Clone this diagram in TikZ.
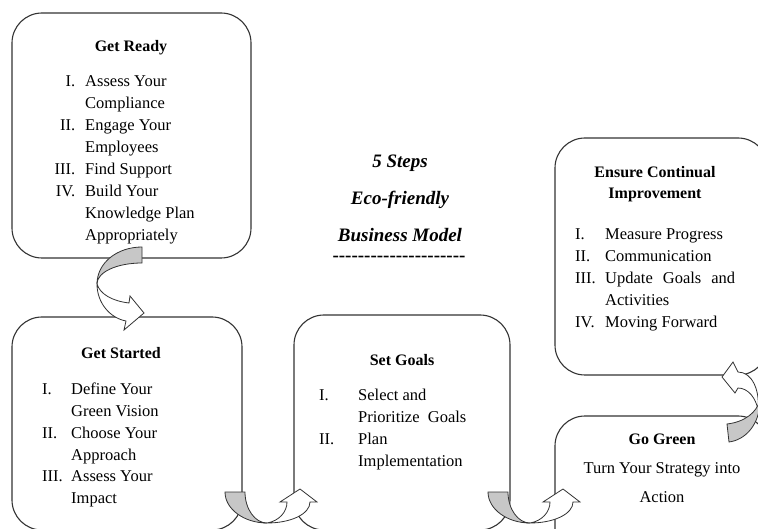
\documentclass[tikz,border=0pt]{standalone}
\usepackage{fontspec}
\setmainfont{Liberation Serif}
\newcommand\rnum[1]{\llap{#1\hspace{10pt}}}
\newcommand\lnum[2]{\llap{\makebox[#1][l]{#2}}}
\begin{document}
\begin{tikzpicture}[x=1pt,y=-1pt,
    stage/.style={draw=black!80,line width=1.1pt,rounded corners=30pt,inner sep=0pt,outer sep=0pt},
    heading/.style={anchor=base,inner sep=0pt,font=\fontsize{16}{21}\selectfont\bfseries},
    items/.style={anchor=base west,inner sep=0pt,font=\fontsize{16.5}{22}\selectfont},
    grayband/.style={draw=black!80,line width=0.8pt,fill=black!22},
    whiteband/.style={draw=black!80,line width=0.8pt,fill=white}]

  \useasboundingbox (0,0) rectangle (758,529);
  \clip (0,0) rectangle (758,529);

  % the five steps
  \node[stage,minimum width=239pt,minimum height=245pt] (ready)   at (131.5,135.5) {};
  \node[stage,minimum width=230pt,minimum height=213pt] (started) at (127,423.5) {};
  \node[stage,minimum width=216pt,minimum height=215pt] (goals)   at (402,422.5) {};
  \node[stage,minimum width=213pt,minimum height=237pt] (ensure)  at (661.5,256.5) {};
  \node[stage,minimum width=213pt,minimum height=144pt] (green)   at (661.5,488) {};

  % title in the middle
  \node[anchor=base,inner sep=0pt,font=\fontsize{19}{37}\selectfont\bfseries\itshape] (title) at (400,168)
    {\begin{tabular}[t]{@{}c@{}}5 Steps\\Eco-friendly\\Business Model\end{tabular}};
  \node[anchor=base,inner sep=0pt,font=\fontsize{19}{22}\selectfont\bfseries] (rule) at (399,262)
    {\foreach \k in {1,...,21}{-\kern0pt}};

  % Get Ready
  \node[heading] (readyhead) at (131,52) {Get Ready};
  \node[items] (readylist) at (85,87) {\begin{tabular}[t]{@{}l@{}}
    \rnum{I.}Assess Your\\ Compliance\\ \rnum{II.}Engage Your\\ Employees\\
    \rnum{III.}Find Support\\ \rnum{IV.}Build Your\\ Knowledge Plan\\ Appropriately
  \end{tabular}};

  % Get Started
  \node[heading] (startedhead) at (121,359) {Get Started};
  \node[items,font=\fontsize{16.5}{21.7}\selectfont] (startedlist) at (71,395) {\begin{tabular}[t]{@{}l@{}}
    \lnum{29pt}{I.}Define Your\\ Green Vision\\ \lnum{29pt}{II.}Choose Your\\ Approach\\
    \lnum{29pt}{III.}Assess Your\\ Impact
  \end{tabular}};

  % Set Goals
  \node[heading] (goalshead) at (402,366) {Set Goals};
  \node[items,font=\fontsize{16.5}{22.3}\selectfont] (goalslist) at (358,400) {\begin{tabular}[t]{@{}l@{}}
    \lnum{39pt}{I.}Select and\\ Prioritize~ Goals\\ \lnum{39pt}{II.}Plan\\ Implementation
  \end{tabular}};

  % Go Green
  \node[heading] (greenhead) at (662,444) {Go Green};
  \node[anchor=base,inner sep=0pt,font=\fontsize{16.5}{29}\selectfont] (greentext) at (662,473)
    {\begin{tabular}[t]{@{}c@{}}Turn Your Strategy into\\Action\end{tabular}};

  % Ensure Continual Improvement
  \node[heading] (ensurehead) at (655,178)
    {\begin{tabular}[t]{@{}c@{}}Ensure Continual\\Improvement\end{tabular}};
  \node[items] (ensurelist) at (605,240) {\begin{tabular}[t]{@{}l@{}}
    \lnum{30pt}{I.}Measure Progress\\ \lnum{30pt}{II.}Communication\\
    \lnum{30pt}{III.}\makebox[130pt][s]{Update Goals and}\\ Activities\\
    \lnum{30pt}{IV.}Moving Forward
  \end{tabular}};

  % curved arrows between the steps
  \draw[grayband] (142,247) .. controls (117,247) and (97,263) .. (97,284)
    .. controls (97,272) and (117,263) .. (142,263) -- cycle;
  \draw[whiteband] (97,284) .. controls (97,303) and (110,318) .. (126,321)
    -- (124,330) -- (144,313) -- (130,296) -- (129,303)
    .. controls (112,301) and (100,294) .. (97,284) -- cycle;

  \begin{scope}[shift={(225,492)}]
    \draw[grayband] (0,0) .. controls (0,17) and (19,31) .. (42,31)
      .. controls (30,31) and (20,17) .. (20,0) -- cycle;
    \draw[whiteband] (42,31) .. controls (66,31) and (85,22) .. (85,10)
      -- (92,10) -- (75,-3) -- (55,10) -- (62,10)
      .. controls (62,20) and (54,29) .. (42,31) -- cycle;
  \end{scope}

  \begin{scope}[shift={(488,492)}]
    \draw[grayband] (0,0) .. controls (0,17) and (19,31) .. (42,31)
      .. controls (30,31) and (20,17) .. (20,0) -- cycle;
    \draw[whiteband] (42,31) .. controls (66,31) and (85,22) .. (85,10)
      -- (92,10) -- (75,-3) -- (55,10) -- (62,10)
      .. controls (62,20) and (54,29) .. (42,31) -- cycle;
  \end{scope}

  \draw[whiteband] (758,410) .. controls (760,390) and (752,372) .. (738,372)
    -- (733,362) -- (722,377) -- (735,393) -- (738,388)
    .. controls (748,388) and (756,398) .. (758,410) -- cycle;
  \draw[grayband] (727,424) -- (729,442) .. controls (745,440) and (760,425) .. (760,400)
    .. controls (757,412) and (745,422) .. (727,424) -- cycle;

\end{tikzpicture}
\end{document}
